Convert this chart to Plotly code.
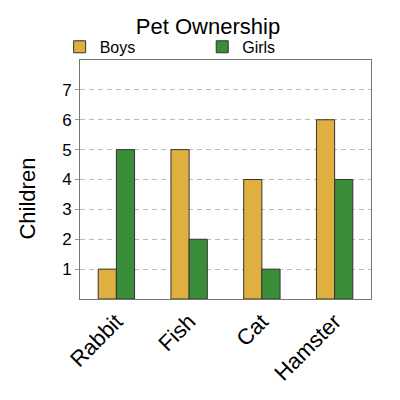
import plotly.graph_objects as go

# ===================== 数据 =====================
pets = ["Rabbit", "Fish", "Cat", "Hamster"]
boys = [1, 5, 4, 6]
girls = [5, 2, 1, 4]
y_ticks = [1, 2, 3, 4, 5, 6, 7]

FONT = "Liberation Sans, Arial, sans-serif"

fig = go.Figure()
fig.add_trace(go.Bar(x=pets, y=boys, name="Boys", legend="legend",
                     marker=dict(color="#DFB040", line=dict(color="#333333", width=1))))
fig.add_trace(go.Bar(x=pets, y=girls, name="Girls", legend="legend2",
                     marker=dict(color="#3A8E3A", line=dict(color="#333333", width=1))))

leg_style = dict(yanchor="middle", xanchor="left", font=dict(size=16),
                 bgcolor="rgba(0,0,0,0)", itemwidth=30)

fig.update_layout(
    width=400, height=400,
    margin=dict(l=72, r=37, t=52, b=109, autoexpand=False),
    paper_bgcolor="white", plot_bgcolor="white",
    font=dict(family=FONT, color="black"),
    title=dict(text="Pet Ownership", x=0.5, xanchor="center", y=0.955, yanchor="middle",
               font=dict(size=22)),
    barmode="group", bargap=0.5, bargroupgap=0,
    showlegend=True,
    legend=dict(x=-0.07, y=1.055, **leg_style),
    legend2=dict(x=0.42, y=1.055, **leg_style),
    # 纵轴标题（位置偏下，用注释放置）
    annotations=[dict(text="Children", textangle=-90, xref="paper", yref="paper",
                      x=-0.179, y=0.42, xanchor="center", yanchor="middle",
                      showarrow=False, font=dict(size=22))],
)
fig.update_xaxes(
    tickangle=-45, tickfont=dict(size=22),
    showline=True, linecolor="#777777", linewidth=1, mirror=True,
    ticks="", showgrid=False,
)
fig.update_yaxes(
    range=[0, 8], tickvals=y_ticks, tickfont=dict(size=17),
    showline=True, linecolor="#777777", linewidth=1, mirror=True,
    ticks="outside", ticklen=4, tickcolor="#999999",
    showgrid=True, gridcolor="#BBBBBB", griddash="5px,4px", gridwidth=1,
    zeroline=False,
)

fig.write_html("out.html")
